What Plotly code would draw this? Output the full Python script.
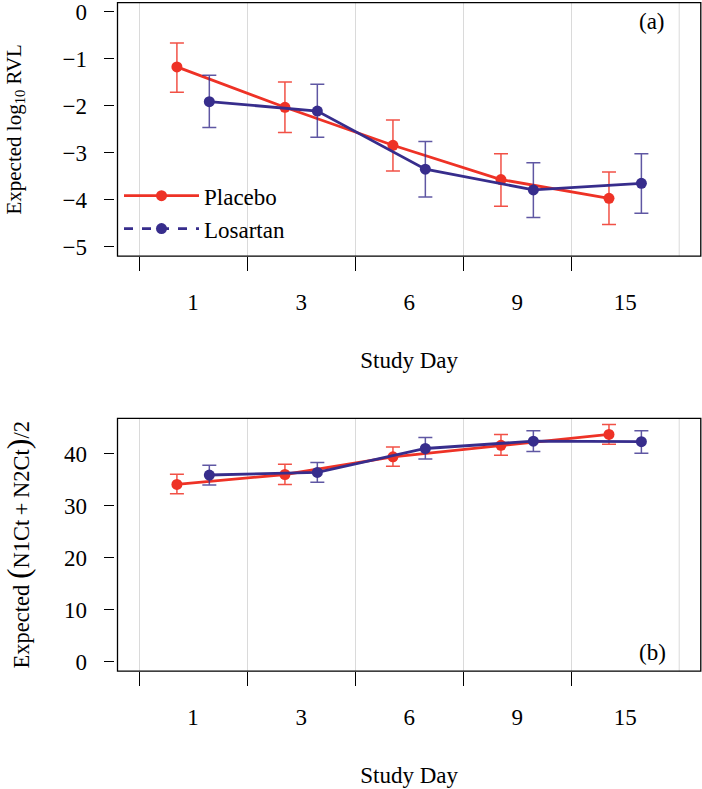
import plotly.graph_objects as go

# ---- data ----
study_days = ["1", "3", "6", "9", "15"]

# Panel (a): Expected log10 RVL
rvl_placebo = [-1.17, -2.03, -2.84, -3.57, -3.97]
rvl_placebo_lo = [-1.71, -2.57, -3.39, -4.14, -4.53]
rvl_placebo_hi = [-0.66, -1.49, -2.30, -3.02, -3.41]
rvl_losartan = [-1.91, -2.11, -3.35, -3.79, -3.65]
rvl_losartan_lo = [-2.46, -2.67, -3.94, -4.38, -4.29]
rvl_losartan_hi = [-1.35, -1.54, -2.76, -3.21, -3.02]

# Panel (b): Expected (N1Ct + N2Ct)/2
ct_placebo = [34.1, 36.0, 39.4, 41.6, 43.7]
ct_placebo_lo = [32.3, 34.1, 37.6, 39.7, 41.8]
ct_placebo_hi = [36.05, 37.96, 41.3, 43.7, 45.6]
ct_losartan = [35.9, 36.4, 41.0, 42.4, 42.3]
ct_losartan_lo = [34.0, 34.5, 39.0, 40.4, 40.1]
ct_losartan_hi = [37.8, 38.3, 43.1, 44.4, 44.4]

# ---- style ----
RED = "#EE3226"
BLUE = "#372D8C"
RED_ERR = "rgba(238,50,38,0.85)"
BLUE_ERR = "rgba(55,45,140,0.8)"
FONT = "Liberation Serif"
FS = 23
W, H = 702, 789
OFFSET = 0.15

centers = [i + 1 for i in range(len(study_days))]
x_pl = [c - OFFSET for c in centers]
x_lo = [c + OFFSET for c in centers]
tick_bounds = [c - 0.5 for c in centers]


def err(mean, lo, hi):
    return dict(type="data", symmetric=False,
                array=[h - m for m, h in zip(mean, hi)],
                arrayminus=[m - l for m, l in zip(mean, lo)])


fig = go.Figure()

for (xa, ya, pl, pl_lo, pl_hi, lo_, lo_lo, lo_hi) in [
    ("x", "y", rvl_placebo, rvl_placebo_lo, rvl_placebo_hi,
     rvl_losartan, rvl_losartan_lo, rvl_losartan_hi),
    ("x2", "y2", ct_placebo, ct_placebo_lo, ct_placebo_hi,
     ct_losartan, ct_losartan_lo, ct_losartan_hi),
]:
    e = err(pl, pl_lo, pl_hi)
    e.update(color=RED_ERR, thickness=1.5, width=7)
    fig.add_trace(go.Scatter(x=x_pl, y=pl, mode="lines+markers", xaxis=xa, yaxis=ya,
                             line=dict(color=RED, width=2.8),
                             marker=dict(color=RED, size=11),
                             error_y=e, showlegend=False))
    e = err(lo_, lo_lo, lo_hi)
    e.update(color=BLUE_ERR, thickness=1.5, width=7)
    fig.add_trace(go.Scatter(x=x_lo, y=lo_, mode="lines+markers", xaxis=xa, yaxis=ya,
                             line=dict(color=BLUE, width=2.8),
                             marker=dict(color=BLUE, size=11),
                             error_y=e, showlegend=False))

# legend entries (R legend shows dashed line for Losartan)
fig.add_trace(go.Scatter(x=[None], y=[None], mode="lines+markers", name="Placebo",
                         line=dict(color=RED, width=2.8), marker=dict(color=RED, size=11)))
fig.add_trace(go.Scatter(x=[None], y=[None], mode="lines+markers", name="Losartan",
                         line=dict(color=BLUE, width=2.8, dash="dash"),
                         marker=dict(color=BLUE, size=11)))

xdom = [117.5 / W, 700.8 / W]
ydom_a = [1 - 256 / H, 1 - 0.6 / H]
ydom_b = [1 - 674.3 / H, 1 - 419.5 / H]
ypos = 113.5 / W

tfont = dict(family=FONT, size=FS, color="black")

xcommon = dict(
    domain=xdom, range=[0.3, 5.7],
    tickmode="array", tickvals=centers, ticktext=study_days,
    ticks="", showgrid=False, zeroline=False, showline=False,
    ticklabelstandoff=30,
    tickfont=tfont,
    minor=dict(tickmode="array", tickvals=tick_bounds, ticks="outside",
               ticklen=14, tickwidth=1.3, tickcolor="black",
               showgrid=True, gridcolor="#DADADA", gridwidth=1),
    title=dict(text="Study Day", font=tfont, standoff=37),
)
ycommon = dict(
    anchor="free", position=ypos, showgrid=False, zeroline=False, showline=False,
    ticks="outside", ticklen=10, tickwidth=1.3, tickcolor="black",
    tickfont=tfont, ticklabelstandoff=12, ticklabeloverflow="allow",
)

fig.update_layout(
    width=W, height=H,
    margin=dict(l=0, r=0, t=0, b=0),
    plot_bgcolor="white", paper_bgcolor="white",
    font=tfont,
    xaxis=dict(anchor="y", **xcommon),
    xaxis2=dict(anchor="y2", **xcommon),
    yaxis=dict(domain=ydom_a, range=[-5.2, 0.2], tickmode="array",
               tickvals=[0, -1, -2, -3, -4, -5],
               title=dict(text="Expected log<sub>10</sub> RVL",
                          font=dict(family=FONT, size=21, color="black"), standoff=34),
               **ycommon),
    yaxis2=dict(domain=ydom_b, range=[-1.8, 46.8], tickmode="array",
                tickvals=[0, 10, 20, 30, 40],
                title=dict(text="Expected <span style='font-size:32px'>(</span>N1Ct\u2009+\u2009N2Ct<span style='font-size:32px'>)</span>/2",
                           font=dict(family=FONT, size=22.5, color="black"), standoff=35),
                **ycommon),
    legend=dict(x=119 / W, y=1 - 173.5 / H, xanchor="left", yanchor="top",
                bgcolor="rgba(0,0,0,0)", font=tfont,
                itemwidth=75, tracegroupgap=0),
    showlegend=True,
    shapes=[
        dict(type="rect", xref="x domain", yref="y domain", x0=0, x1=1, y0=0, y1=1,
             line=dict(color="black", width=1.3), layer="above"),
        dict(type="rect", xref="x2 domain", yref="y2 domain", x0=0, x1=1, y0=0, y1=1,
             line=dict(color="black", width=1.3), layer="above"),
        dict(type="line", xref="x", yref="y domain", x0=5.5, x1=5.5, y0=0, y1=1,
             line=dict(color="#DADADA", width=1), layer="below"),
        dict(type="line", xref="x2", yref="y2 domain", x0=5.5, x1=5.5, y0=0, y1=1,
             line=dict(color="#DADADA", width=1), layer="below"),
    ],
    annotations=[
        dict(text="(a)", xref="paper", yref="paper", x=652 / W, y=1 - 20 / H,
             xanchor="center", yanchor="middle", showarrow=False, font=tfont),
        dict(text="(b)", xref="paper", yref="paper", x=652 / W, y=1 - 655 / H,
             xanchor="center", yanchor="middle", showarrow=False, font=tfont),
    ],
)

fig.write_html("out.html", config={"displayModeBar": False},
               post_script="document.body.style.margin='0px';")
